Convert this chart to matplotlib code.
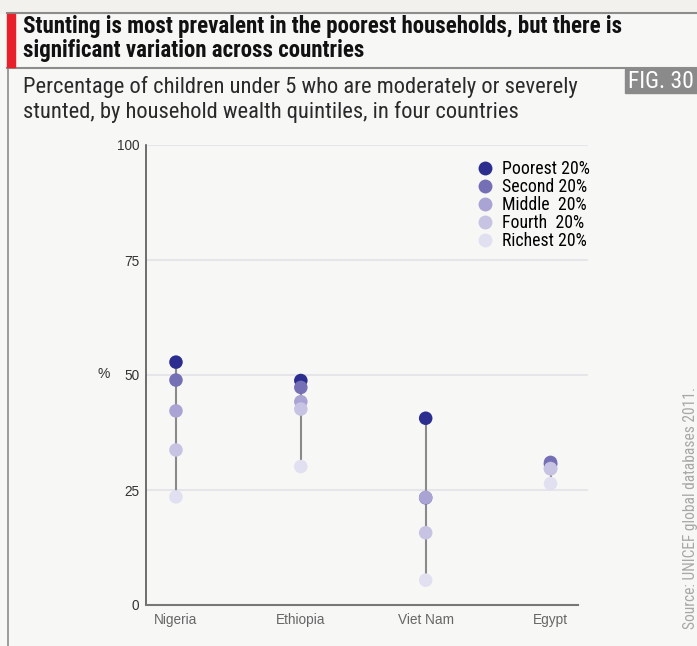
import matplotlib
matplotlib.use("Agg")
import matplotlib.pyplot as plt
from matplotlib import font_manager
from matplotlib.lines import Line2D
from matplotlib.patches import Rectangle

countries = ["Nigeria", "Ethiopia", "Viet Nam", "Egypt"]
quintiles = ["Poorest 20%", "Second 20%", "Middle  20%", "Fourth  20%", "Richest 20%"]
poorest = [52.8, 48.8, 40.6, 30.6]
second = [48.9, 47.3, 23.3, 31.0]
middle = [42.2, 44.2, 23.4, 29.7]
fourth = [33.7, 42.6, 15.7, 29.6]
richest = [23.5, 30.1, 5.4, 26.4]
series = [poorest, second, middle, fourth, richest]
colors = ["#2b2e8f", "#7570b5", "#a9a4d3", "#c6c3e3", "#e1e0f1"]
yticks = [0, 25, 50, 75, 100]

avail = {f.name for f in font_manager.fontManager.ttflist}
narrow = next((n for n in ["Liberation Sans Narrow", "Roboto Condensed", "Arial Narrow"] if n in avail), "Liberation Sans")
plain = "Liberation Sans" if "Liberation Sans" in avail else "DejaVu Sans"
plt.rcParams["font.family"] = [narrow, "DejaVu Sans"]

W, H = 697, 646
fig = plt.figure(figsize=(W / 100, H / 100), dpi=100)
fig.patch.set_facecolor("#f7f7f5")

def fx(px):
    return px / W

def fy(py):
    return 1 - py / H

# frame
fig.add_artist(Rectangle((0, fy(13)), 1, 1 - fy(13), transform=fig.transFigure, color="#f2f1ed", zorder=0))
fig.add_artist(Line2D([fx(7), 1], [fy(13), fy(13)], transform=fig.transFigure, color="#8c8c8c", lw=1.5))
fig.add_artist(Line2D([fx(7), 1], [fy(68), fy(68)], transform=fig.transFigure, color="#8c8c8c", lw=1.5))
fig.add_artist(Line2D([fx(7.5), fx(7.5)], [fy(13), 0], transform=fig.transFigure, color="#8c8c8c", lw=1.2))
fig.add_artist(Rectangle((fx(7), fy(67)), fx(8), fy(14) - fy(67), transform=fig.transFigure, color="#e8202a", zorder=3))

fig.text(fx(23), fy(27), "Stunting is most prevalent in the poorest households, but there is",
         fontsize=16.5, fontweight="bold", color="#111111", va="center", ha="left")
fig.text(fx(23), fy(50), "significant variation across countries",
         fontsize=16.5, fontweight="bold", color="#111111", va="center", ha="left")
fig.text(fx(23), fy(87), "Percentage of children under 5 who are moderately or severely",
         fontsize=16.2, color="#2a2a2a", va="center", ha="left")
fig.text(fx(23), fy(112), "stunted, by household wealth quintiles, in four countries",
         fontsize=16.2, color="#2a2a2a", va="center", ha="left")

fig.add_artist(Rectangle((fx(625), fy(93)), fx(80), fy(69) - fy(93), transform=fig.transFigure, color="#8a8a8a", zorder=3))
fig.text(fx(628), fy(81), "FIG. 30", fontsize=17, color="white", va="center", ha="left", zorder=4)

fig.text(fx(690), fy(629), "Source: UNICEF global databases 2011.", rotation=90,
         fontsize=11.2, color="#a8a8a8", ha="center", va="bottom")

ax = fig.add_axes([fx(146), fy(605), fx(588) - fx(146), fy(145) - fy(605)])
ax.set_facecolor("none")
x = list(range(len(countries)))
ax.set_xlim(-0.24, 3.30)
ax.set_ylim(0, 100)

for v in yticks[1:]:
    ax.axhline(v, color="#e5e5ea", lw=1.5, zorder=0)

for i in x:
    vals = [s[i] for s in series]
    ax.plot([i, i], [min(vals), max(vals)], color="#8a8a8a", lw=1.5, zorder=1)

for s, c, lab in zip(series, colors, quintiles):
    ax.scatter(x, s, s=95, color=c, edgecolors="none", zorder=2, label=lab)

for sp in ["top", "right"]:
    ax.spines[sp].set_visible(False)
ax.spines["left"].set_color("#555555")
ax.spines["left"].set_linewidth(1.2)
ax.spines["bottom"].set_color("#777777")
ax.spines["bottom"].set_linewidth(1.5)
ax.spines["bottom"].set_bounds(-0.24, 3.22)

ax.set_yticks(yticks)
ax.set_yticklabels([str(v) for v in yticks], fontsize=9.8, color="#333333", family=plain)
ax.set_xticks(x)
ax.set_xticklabels(countries, fontsize=9.8, color="#666666", family=plain)
ax.tick_params(axis="both", length=0)
ax.tick_params(axis="y", pad=5)
ax.tick_params(axis="x", pad=6)
fig.text(fx(104), fy(374), "%", fontsize=10, color="#333333", ha="center", va="center", family=plain)

handles = [Line2D([], [], marker="o", ls="none", markersize=10, markerfacecolor=c, markeredgecolor="none") for c in colors]
fig.legend(handles, quintiles, loc="upper left", bbox_to_anchor=(fx(474), fy(160)),
           frameon=False, fontsize=12.8, handletextpad=0.35, labelspacing=0.0,
           handlelength=1.2, borderaxespad=0, borderpad=0)

fig.savefig("out.png", dpi=100, facecolor=fig.get_facecolor())
